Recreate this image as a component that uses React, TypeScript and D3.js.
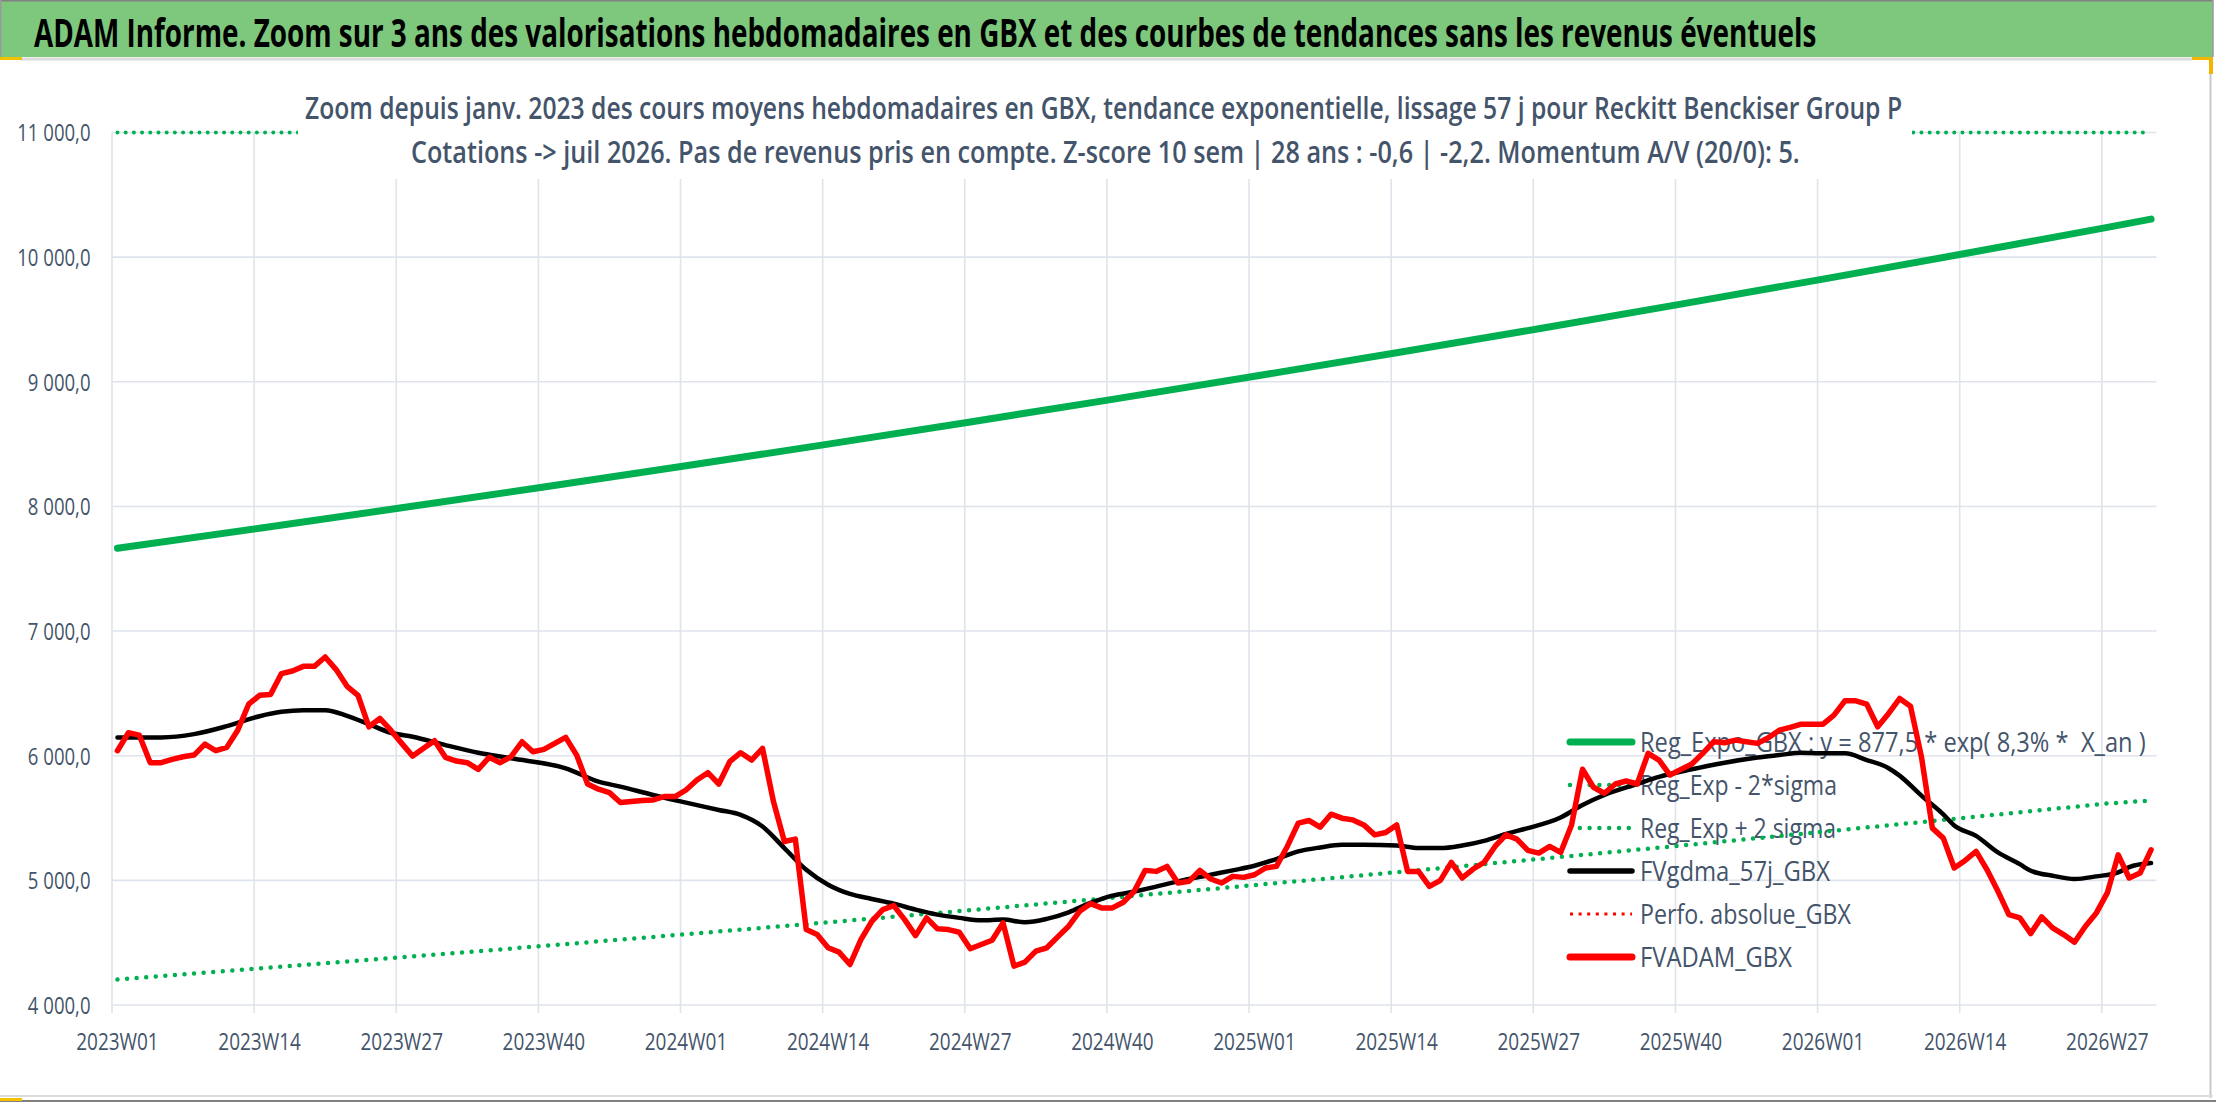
import React, { useEffect, useRef } from 'react';
import * as d3 from 'd3';

// categories: ISO weeks 2023W01 -> 2026W31
const years = [2023, 2024, 2025, 2026];
const weeksPerYear = [52, 52, 52, 31];
const weekLabels: string[] = years.flatMap((yr, i) =>
  d3.range(1, weeksPerYear[i] + 1).map((w) => `${yr}W${String(w).padStart(2, '0')}`)
);

const tickLabels = [
  '2023W01', '2023W14', '2023W27', '2023W40', '2024W01', '2024W14', '2024W27', '2024W40',
  '2025W01', '2025W14', '2025W27', '2025W40', '2026W01', '2026W14', '2026W27',
];

const yTicks = [4000, 5000, 6000, 7000, 8000, 9000, 10000, 11000];

// FVADAM_GBX, one value per week
const adamValues = [
  6040, 6184, 6165, 5944, 5944, 5971, 5992, 6005, 6093, 6040, 6067, 6205, 6413, 6485, 6491, 6659,
  6680, 6717, 6717, 6792, 6691, 6557, 6485, 6232, 6299, 6205, 6099, 5997, 6059, 6120, 5987, 5957,
  5944, 5891, 5987, 5944, 5992, 6112, 6032, 6051, 6099, 6147, 6005, 5773, 5731, 5704, 5624, 5632,
  5640, 5645, 5672, 5672, 5725, 5805, 5864, 5773, 5952, 6024, 5965, 6059, 5632, 5312, 5331, 4605,
  4565, 4459, 4424, 4325, 4525, 4672, 4765, 4797, 4685, 4557, 4699, 4611, 4605, 4584, 4451, 4485,
  4520, 4659, 4312, 4344, 4432, 4459, 4547, 4632, 4752, 4813, 4779, 4779, 4824, 4912, 5080, 5072,
  5112, 4979, 4992, 5080, 5011, 4979, 5032, 5024, 5045, 5099, 5112, 5272, 5459, 5480, 5427, 5531,
  5499, 5485, 5445, 5365, 5384, 5445, 5072, 5072, 4952, 5000, 5144, 5019, 5091, 5144, 5272, 5365,
  5331, 5240, 5219, 5272, 5224, 5445, 5891, 5747, 5699, 5773, 5797, 5773, 6019, 5965, 5845, 5890,
  5933, 6019, 6112, 6104, 6125, 6112, 6099, 6144, 6205, 6227, 6253, 6253, 6253, 6325, 6440, 6440,
  6413, 6232, 6339, 6459, 6397, 5992, 5419, 5339, 5099, 5160, 5232, 5085, 4912, 4725, 4699, 4573,
  4707, 4619, 4565, 4504, 4632, 4739, 4899, 5205, 5019, 5059, 5245,
];

// FVgdma_57j_GBX, read at these week indexes
const gdmaWeeks = [
  0, 4, 7, 10, 13, 15, 17, 19, 21, 23, 25, 27, 30, 33, 36, 41, 44, 46, 49, 52, 55, 57, 59, 61, 63,
  65, 67, 69, 71, 73, 75, 77, 79, 81, 83, 85, 87, 89, 91, 93, 95, 97, 100, 102, 104, 106, 108, 110,
  112, 114, 117, 119, 121, 123, 125, 127, 129, 132, 134, 136, 139, 141, 144, 147, 150, 152, 154,
  156, 158, 160, 162, 163, 165, 167, 168, 170, 172, 174, 175, 177, 179, 181, 183, 184, 186,
];
const gdmaValues = [
  6147, 6147, 6173, 6237, 6317, 6352, 6365, 6365, 6320, 6253, 6184, 6152, 6085, 6024, 5979, 5899,
  5792, 5752, 5685, 5624, 5565, 5525, 5432, 5259, 5085, 4965, 4891, 4851, 4813, 4765, 4725, 4699,
  4680, 4685, 4664, 4691, 4744, 4819, 4877, 4910, 4950, 4992, 5045, 5080, 5117, 5171, 5232, 5264,
  5285, 5285, 5280, 5259, 5259, 5280, 5317, 5373, 5419, 5504, 5605, 5685, 5773, 5830, 5891, 5944,
  5985, 6005, 6024, 6019, 6019, 5965, 5900, 5840, 5680, 5530, 5440, 5357, 5224, 5130, 5077, 5037,
  5011, 5032, 5064, 5107, 5139,
];

// regression lines, read at each tick and at the last week
const trendWeeks = [0, 13, 26, 39, 52, 65, 78, 91, 104, 117, 130, 143, 156, 169, 182, 186];
const regExpoValues = [
  7665, 7825, 7989, 8156, 8326, 8500, 8678, 8859, 9044, 9233, 9426, 9623, 9824, 10029, 10239, 10305,
];
const regLowValues = [
  4205, 4293, 4383, 4474, 4568, 4663, 4761, 4860, 4962, 5065, 5171, 5279, 5390, 5502, 5617, 5640,
];
const regHighValues = [
  13970, 14260, 14560, 14870, 15180, 15490, 15820, 16150, 16490, 16830, 17180, 17540, 17910,
  18280, 18660, 18780,
];

const legendLabels = [
  'Reg_Expo_GBX : y = 877,5 * exp( 8,3% *  X_an )',
  'Reg_Exp - 2*sigma',
  'Reg_Exp + 2 sigma',
  'FVgdma_57j_GBX',
  'Perfo. absolue_GBX',
  'FVADAM_GBX',
];

const title =
  'ADAM Informe. Zoom sur 3 ans des valorisations hebdomadaires en GBX et des courbes de tendances sans les revenus éventuels';
const subtitle1 =
  'Zoom depuis janv. 2023 des cours moyens hebdomadaires en GBX, tendance exponentielle, lissage 57 j pour Reckitt Benckiser Group P';
const subtitle2 =
  'Cotations -> juil 2026. Pas de revenus pris en compte. Z-score 10 sem | 28 ans : -0,6 | -2,2. Momentum A/V (20/0): 5.';

const GREEN = '#00b050';
const RED = '#ff0000';
const SLATE = '#44546a';
const FONT = '"Open Sans", "Noto Sans", sans-serif';

// legend styling (same order as legendLabels)
const legendStyles = [
  { color: GREEN, width: 7, dash: null as string | null, cap: 'round', textW: 506 },
  { color: GREEN, width: 4.5, dash: '0 9.8', cap: 'round', textW: 197 },
  { color: GREEN, width: 4.5, dash: '0 9.8', cap: 'round', textW: 196 },
  { color: '#000', width: 5.5, dash: null, cap: 'round', textW: 190 },
  { color: RED, width: 3, dash: '3 5.6', cap: 'butt', textW: 211 },
  { color: RED, width: 7, dash: null, cap: 'round', textW: 152 },
];

// squeeze a text horizontally to a target width (the source picture is narrowed)
function fitText(
  parent: d3.Selection<SVGGElement | SVGSVGElement, unknown, null, undefined>,
  str: string,
  px: number,
  py: number,
  target: number,
  attrs: Record<string, string | number>
) {
  const g = parent.append('g');
  const t = g.append('text').style('white-space', 'pre').text(str);
  Object.entries(attrs).forEach(([k, v]) => t.attr(k, v));
  const natural = (t.node() as SVGTextElement).getComputedTextLength() || target;
  g.attr('transform', `translate(${px}, ${py}) scale(${target / natural}, 1)`);
  return g;
}

const App: React.FC = () => {
  const ref = useRef<SVGSVGElement>(null);

  useEffect(() => {
    const W = 2216;
    const H = 1102;
    const left = 112;
    const right = 2156.5;
    const top = 132.5;
    const bottom = 1005;

    const svg = d3.select(ref.current as SVGSVGElement).attr('width', W).attr('height', H);
    svg.selectAll('*').remove();

    const x = d3.scaleBand<string>().domain(weekLabels).range([left, right]).padding(0);
    const cx = (i: number) => (x(weekLabels[i]) as number) + x.bandwidth() / 2;
    const y = d3.scaleLinear().domain([4000, 11000]).range([bottom, top]);
    const yClamp = y.copy().clamp(true);

    const fr = d3.formatLocale({ decimal: ',', thousands: ' ', grouping: [3], currency: ['', '€'] });
    const fmt = fr.format(',.1f');

    svg.append('rect').attr('width', W).attr('height', H).attr('fill', '#fff');

    // header band
    svg.append('rect').attr('x', 0).attr('y', 0).attr('width', 2213).attr('height', 57).attr('fill', '#7ec87e');
    svg.append('line').attr('x1', 0).attr('x2', 2213).attr('y1', 0.75).attr('y2', 0.75).attr('stroke', '#808080').attr('stroke-width', 1.5);
    svg.append('line').attr('x1', 0.75).attr('x2', 0.75).attr('y1', 0).attr('y2', 57).attr('stroke', '#9a9a9a').attr('stroke-width', 1.5);
    svg.append('line').attr('x1', 2213).attr('x2', 2213).attr('y1', 0).attr('y2', 57).attr('stroke', '#9a9a9a').attr('stroke-width', 1.5);
    fitText(svg as any, title, 34, 47, 1783, {
      'font-family': FONT,
      'font-weight': 700,
      'font-size': 40,
      fill: '#000',
    });

    // chart frame
    svg.append('line').attr('x1', 20).attr('x2', 2192).attr('y1', 59).attr('y2', 59).attr('stroke', '#dcdcdc').attr('stroke-width', 3);
    svg.append('line').attr('x1', 2210.5).attr('x2', 2210.5).attr('y1', 60).attr('y2', 1098).attr('stroke', '#c8c8c8').attr('stroke-width', 2);
    svg.append('line').attr('x1', 0).attr('x2', 2213).attr('y1', 1096).attr('y2', 1096).attr('stroke', '#dcdcdc').attr('stroke-width', 2);
    svg.append('line').attr('x1', 0).attr('x2', 2216).attr('y1', 1101).attr('y2', 1101).attr('stroke', '#808080').attr('stroke-width', 2);
    svg.append('rect').attr('x', 0).attr('y', 57).attr('width', 22).attr('height', 3).attr('fill', '#f2c200');
    svg.append('rect').attr('x', 0).attr('y', 1098).attr('width', 22).attr('height', 3).attr('fill', '#f2c200');
    svg.append('rect').attr('x', 2192).attr('y', 57).attr('width', 21).attr('height', 3).attr('fill', '#f5b400');
    svg.append('rect').attr('x', 2209).attr('y', 57).attr('width', 4).attr('height', 17).attr('fill', '#f5b400');

    // gridlines
    const grid = svg.append('g').attr('stroke', '#dfe3eb').attr('stroke-width', 1.6);
    grid
      .selectAll('line.h')
      .data(yTicks)
      .join('line')
      .attr('x1', left)
      .attr('x2', right)
      .attr('y1', (d) => y(d))
      .attr('y2', (d) => y(d));
    grid
      .selectAll('line.v')
      .data(tickLabels)
      .join('line')
      .attr('x1', (d) => x(d) as number)
      .attr('x2', (d) => x(d) as number)
      .attr('y1', top)
      .attr('y2', bottom + 8);

    const trendLine = (scale: d3.ScaleLinear<number, number>) =>
      d3
        .line<number>()
        .x((_d, i) => cx(trendWeeks[i]))
        .y((d) => scale(d));

    // +2 sigma runs above the axis max: drawn on the top edge
    svg
      .append('path')
      .datum(regHighValues)
      .attr('d', trendLine(yClamp))
      .attr('fill', 'none')
      .attr('stroke', GREEN)
      .attr('stroke-width', 4)
      .attr('stroke-dasharray', '0 8.2')
      .attr('stroke-linecap', 'round');

    // subtitle box
    svg.append('rect').attr('x', 298).attr('y', 62).attr('width', 1614).attr('height', 117).attr('fill', '#fff');
    const subAttrs = { 'font-family': FONT, 'font-weight': 600, 'font-size': 31, fill: SLATE };
    fitText(svg as any, subtitle1, 305, 119, 1598, subAttrs);
    fitText(svg as any, subtitle2, 411, 163, 1389, subAttrs);

    // legend (series are drawn over it)
    const legend = svg.append('g').attr('transform', 'translate(1570, 742)');
    legend
      .selectAll('line')
      .data(legendStyles)
      .join('line')
      .attr('x1', 0)
      .attr('x2', 62)
      .attr('y1', (_d, i) => i * 43)
      .attr('y2', (_d, i) => i * 43)
      .attr('stroke', (d) => d.color)
      .attr('stroke-width', (d) => d.width)
      .attr('stroke-dasharray', (d) => d.dash)
      .attr('stroke-linecap', (d) => d.cap);
    legendLabels.forEach((lbl, i) => {
      fitText(legend as any, lbl, 70, i * 43 + 10, legendStyles[i].textW, {
        'font-family': FONT,
        'font-size': 28,
        fill: SLATE,
      });
    });

    // series
    svg
      .append('path')
      .datum(regExpoValues)
      .attr('d', trendLine(y))
      .attr('fill', 'none')
      .attr('stroke', GREEN)
      .attr('stroke-width', 7)
      .attr('stroke-linecap', 'round');

    svg
      .append('path')
      .datum(regLowValues)
      .attr('d', trendLine(y))
      .attr('fill', 'none')
      .attr('stroke', GREEN)
      .attr('stroke-width', 4.5)
      .attr('stroke-dasharray', '0 9.6')
      .attr('stroke-linecap', 'round');

    const gdmaLine = d3
      .line<number>()
      .x((_d, i) => cx(gdmaWeeks[i]))
      .y((d) => y(d))
      .curve(d3.curveMonotoneX);
    svg
      .append('path')
      .datum(gdmaValues)
      .attr('d', gdmaLine)
      .attr('fill', 'none')
      .attr('stroke', '#000')
      .attr('stroke-width', 4.5)
      .attr('stroke-linecap', 'round');

    const adamLine = d3
      .line<number>()
      .x((_d, i) => cx(i))
      .y((d) => y(d));
    svg
      .append('path')
      .datum(adamValues)
      .attr('d', adamLine)
      .attr('fill', 'none')
      .attr('stroke', RED)
      .attr('stroke-width', 5.5)
      .attr('stroke-linejoin', 'round')
      .attr('stroke-linecap', 'round');

    // axes
    const xAxis = svg
      .append('g')
      .attr('transform', `translate(0, ${bottom})`)
      .call(d3.axisBottom(x).tickValues(tickLabels).tickSize(0));
    xAxis.select('.domain').remove();
    xAxis
      .selectAll('text')
      .attr('y', 45)
      .attr('dy', 0)
      .attr('font-family', FONT)
      .attr('font-size', 24)
      .attr('fill', SLATE)
      .attr('transform', 'scale(0.79,1)');

    const yAxis = svg
      .append('g')
      .attr('transform', `translate(${left}, 0)`)
      .call(d3.axisLeft(y).tickValues(yTicks).tickFormat((d) => fmt(d as number)).tickSize(0));
    yAxis.select('.domain').remove();
    yAxis
      .selectAll('text')
      .attr('x', -27.2)
      .attr('dy', '0.36em')
      .attr('font-family', FONT)
      .attr('font-size', 23.5)
      .attr('fill', SLATE)
      .attr('transform', 'scale(0.79,1)');

    return () => {
      svg.selectAll('*').remove();
    };
  }, []);

  return <svg ref={ref} style={{ position: 'absolute', left: 0, top: 0, display: 'block' }}></svg>;
};

export default App;
